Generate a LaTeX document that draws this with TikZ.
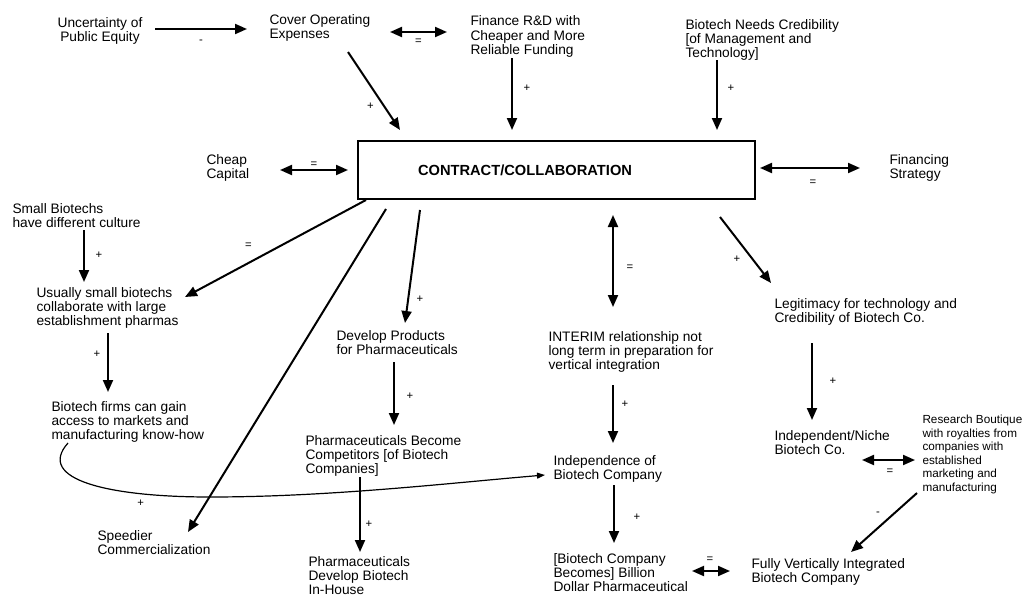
\documentclass[tikz,border=0pt]{standalone}
\usepackage{fontspec}
\setmainfont{Liberation Sans}
\usetikzlibrary{arrows.meta}

\tikzset{every picture/.style={line width=0.75pt}}
\tikzset{
  txt/.style={anchor=base west, inner sep=0pt, align=left, font=\fontsize{10.3}{10.5}\selectfont},
  lbl/.style={inner sep=0pt, font=\fontsize{8.5}{9}\selectfont},
  arr/.style={line width=1.5pt, -{Triangle[length=9pt,width=7.5pt]}},
  dbl/.style={line width=1.5pt, {Triangle[length=9pt,width=7.5pt]}-{Triangle[length=9pt,width=7.5pt]}},
}

\begin{document}
\begin{tikzpicture}[x=0.75pt,y=0.75pt,yscale=-1,xscale=1]
    \useasboundingbox (0,0) rectangle (1024,596);

    % Text Node
    \node (unc) [txt, anchor=base, align=center] at (100,41) {Uncertainty of\\Public Equity};
    % Text Node
    \node (cover) [txt] at (269,38) {Cover Operating\\Expenses};
    % Text Node
    \node (rnd) [txt] at (470,54) {Finance R\&D with\\Cheaper and More\\Reliable Funding};
    % Text Node
    \node (cred) [txt] at (685,57) {Biotech Needs Credibility\\{[}of Management and\\Technology]};
    % Text Node
    \node (cheap) [txt] at (206,178) {Cheap\\Capital};
    % Text Node
    \node (box) [draw, line width=1.5pt, outer sep=0pt, minimum width=297.75pt, minimum height=43.5pt, inner xsep=45pt, text width=207.75pt, align=left, font=\fontsize{11}{12}\selectfont\bfseries] at (556.5,170) {CONTRACT/COLLABORATION};
    % Text Node
    \node (fin) [txt] at (889,178) {Financing\\Strategy};
    % Text Node
    \node (small) [txt] at (12,227) {Small Biotechs\\have different culture};
    % Text Node
    \node (usual) [txt] at (36,325) {Usually small biotechs\\collaborate with large\\establishment pharmas};
    % Text Node
    \node (firms) [txt] at (51,439) {Biotech firms can gain\\access to markets and\\manufacturing know-how};
    % Text Node
    \node (speed) [txt] at (97,554) {Speedier\\Commercialization};
    % Text Node
    \node (prod) [txt] at (336,354) {Develop Products\\for Pharmaceuticals};
    % Text Node
    \node (compet) [txt] at (305,473) {Pharmaceuticals Become\\Competitors [of Biotech\\Companies]};
    % Text Node
    \node (inhouse) [txt] at (308,594) {Pharmaceuticals\\Develop Biotech\\In-House};
    % Text Node
    \node (interim) [txt] at (548,369) {INTERIM relationship not\\long term in preparation for\\vertical integration};
    % Text Node
    \node (legit) [txt] at (774,322) {Legitimacy for technology and\\Credibility of Biotech Co.};
    % Text Node
    \node (indep) [txt] at (553,479) {Independence of\\Biotech Company};
    % Text Node
    \node (niche) [txt] at (774,454) {Independent/Niche\\Biotech Co.};
    % Text Node
    \node (boutique) [txt, font=\fontsize{8.8}{10.1}\selectfont] at (922,491.3) {Research Boutique\\with royalties from\\companies with\\established\\marketing and\\manufacturing};
    % Text Node
    \node (billion) [txt] at (553,591) {{[}Biotech Company\\Becomes] Billion\\Dollar Pharmaceutical};
    % Text Node
    \node (fvi) [txt] at (751,582) {Fully Vertically Integrated\\Biotech Company};

    %Straight Lines
    \draw [arr] ([shift={(55,-12)}]unc.base) -- node[lbl, shift={(0,-13)}] {-} ([shift={(-22,-9)}]cover.base west);
    %Straight Lines
    \draw [dbl] ([shift={(121,-6)}]cover.base west) -- node[lbl, shift={(0,-10)}] {=} ([shift={(-23,-22)}]rnd.base west);
    %Straight Lines
    \draw [arr] ([shift={(79,14)}]cover.base west) -- node[lbl, pos=.7, shift={(-14,0)}] {+} ([shift={(42,-11)}]box.north west);
    %Straight Lines
    \draw [arr] ([shift={(42,4)}]rnd.base west) -- node[lbl, shift={(15,6)}] {+} ([shift={(154,-11)}]box.north west);
    %Straight Lines
    \draw [arr] ([shift={(32,3)}]cred.base west) -- node[lbl, shift={(14,7)}] {+} ([shift={(359,-11)}]box.north west);
    %Straight Lines
    \draw [dbl] ([shift={(74,-8)}]cheap.base west) -- node[lbl, shift={(0,5)}] {=} ([shift={(-10,0)}]box.west);
    %Straight Lines
    \draw [dbl] ([shift={(5,-2)}]box.east) -- node[lbl, shift={(3,-15)}] {=} ([shift={(-29,-10)}]fin.base west);
    %Straight Lines
    \draw [arr] ([shift={(8,1)}]box.south west) -- node[lbl, pos=.65, shift={(0,17)}] {=} ([shift={(149,-28)}]usual.base west);
    %Straight Lines
    \draw [arr] ([shift={(28,10)}]box.south west) -- ([shift={(91,-22)}]speed.base west);
    %Straight Lines
    \draw [arr] ([shift={(62,11)}]box.south west) -- node[lbl, pos=.8, shift={(12,1)}] {+} ([shift={(69,-31)}]prod.base west);
    %Straight Lines
    \draw [arr] ([shift={(72,3)}]small.base west) -- node[lbl, shift={(15,1)}] {+} ([shift={(48,-43)}]usual.base west);
    %Straight Lines
    \draw [arr] ([shift={(72,8)}]usual.base west) -- node[lbl, shift={(-11,8)}] {+} ([shift={(57,-47)}]firms.base west);
    %Straight Lines
    \draw [arr] ([shift={(58,8)}]prod.base west) -- node[lbl, shift={(16,-3)}] {+} ([shift={(89,-48)}]compet.base west);
    %Straight Lines
    \draw [arr] ([shift={(55,4)}]compet.base west) -- node[lbl, shift={(9,-10)}] {+} ([shift={(52,-42)}]inhouse.base west);
    %Straight Lines
    \draw [dbl] ([shift={(255,16)}]box.south west) -- node[lbl, shift={(17,-7)}] {=} ([shift={(65,-62)}]interim.base west);
    %Straight Lines
    \draw [arr] ([shift={(362,18)}]box.south west) -- node[lbl, shift={(-8.5,-9)}] {+} ([shift={(-3,-39)}]legit.base west);
    %Straight Lines
    \draw [arr] ([shift={(65,16)}]interim.base west) -- node[lbl, shift={(12,10)}] {+} ([shift={(60,-36)}]indep.base west);
    %Straight Lines
    \draw [arr] ([shift={(38,21)}]legit.base west) -- node[lbl, shift={(21,0)}] {+} ([shift={(38,-34)}]niche.base west);
    %Straight Lines
    \draw [arr] ([shift={(61,6)}]indep.base west) -- node[lbl, shift={(23,-3)}] {+} ([shift={(61,-48)}]billion.base west);
    %Straight Lines
    \draw [dbl] ([shift={(88,6)}]niche.base west) -- node[lbl, shift={(1.5,-12)}] {=} ([shift={(-7,-31.3)}]boutique.base west);
    %Straight Lines
    \draw [arr] ([shift={(-5,1.7)}]boutique.base west) -- node[lbl, shift={(-6,8.5)}] {-} ([shift={(100,-30)}]fvi.base west);
    %Straight Lines
    \draw [dbl] ([shift={(139,-20)}]billion.base west) -- node[lbl, shift={(-1,11)}] {=} ([shift={(-21,-11)}]fvi.base west);
    %Curve Lines
    \draw [line width=0.9pt, -{Triangle[length=6pt,width=4.5pt]}] ([shift={(17,4)}]firms.base west) .. controls +(-33,37) and +(-100,0) .. (210,497) node[lbl, pos=.8, shift={(-13,-8)}] {+} .. controls +(120,0) and +(-95,8) .. ([shift={(-8,-4)}]indep.base west);

\end{tikzpicture}
\end{document}
